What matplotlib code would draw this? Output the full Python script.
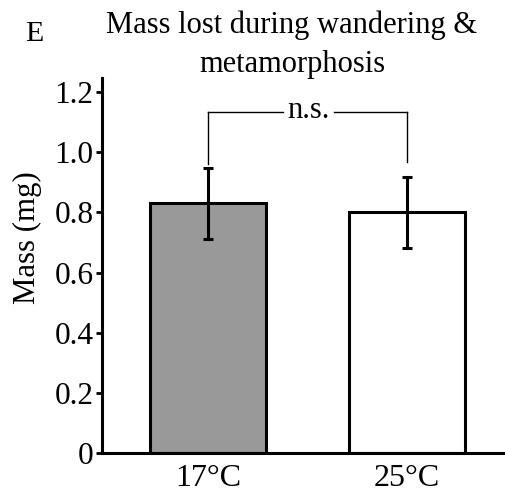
import matplotlib
matplotlib.use("Agg")
import matplotlib.pyplot as plt

categories = ["17\u00b0C", "25\u00b0C"]
means = [0.83, 0.80]
errors = [0.118, 0.119]
bar_colors = ["#999999", "#ffffff"]
yticks = [0, 0.2, 0.4, 0.6, 0.8, 1.0, 1.2]
ytick_labels = ["0", "0.2", "0.4", "0.6", "0.8", "1.0", "1.2"]
sig_label = "n.s."
title_lines = ["Mass lost during wandering &", "metamorphosis"]

plt.rcParams['font.family'] = ['Liberation Serif', 'DejaVu Serif']

fig = plt.figure(figsize=(5.06, 4.99), dpi=100)
ax = fig.add_axes([0.2016, 0.0922, 0.7984, 0.7515])

x = list(range(len(categories)))
ax.bar(x, means, width=0.583, color=bar_colors, edgecolor='black', linewidth=2.2, zorder=2)
ax.errorbar(x, means, yerr=errors, fmt='none', ecolor='black', elinewidth=2.2,
            capsize=3.5, capthick=2.2, zorder=3)

# significance bracket
y_top = 1.133
ax.plot([0, 0], [0.96, y_top], color='black', lw=1, zorder=3)
ax.plot([1, 1], [0.967, y_top], color='black', lw=1, zorder=3)
ax.plot([0, 0.375], [y_top, y_top], color='black', lw=1, zorder=3)
ax.plot([0.635, 1], [y_top, y_top], color='black', lw=1, zorder=3)
ax.text(0.505, y_top + 0.005, sig_label, ha='center', va='center', fontsize=22)

ax.set_xlim(-0.533, 1.497)
ax.set_ylim(0, 1.247)
ax.set_yticks(yticks)
ax.set_yticklabels(ytick_labels)
ax.set_xticks(x)
ax.set_xticklabels(categories)
ax.tick_params(axis='y', labelsize=22.5, length=4, width=2, direction='out', pad=2)
ax.tick_params(axis='x', labelsize=23, length=0, pad=8)

for s in ['top', 'right']:
    ax.spines[s].set_visible(False)
for s in ['left', 'bottom']:
    ax.spines[s].set_linewidth(2.2)

ax.set_ylabel("Mass (mg)", fontsize=22.2)
ax.yaxis.set_label_coords(-0.149, 0.575)

fig.text(0.577, 1 - 33 / 499, title_lines[0], ha='center', va='baseline', fontsize=22)
fig.text(0.577, 1 - 72 / 499, title_lines[1], ha='center', va='baseline', fontsize=22)
fig.text(0.067, 1 - 41 / 499, "E", ha='center', va='baseline', fontsize=21.5)

fig.savefig("out.png", dpi=100)
